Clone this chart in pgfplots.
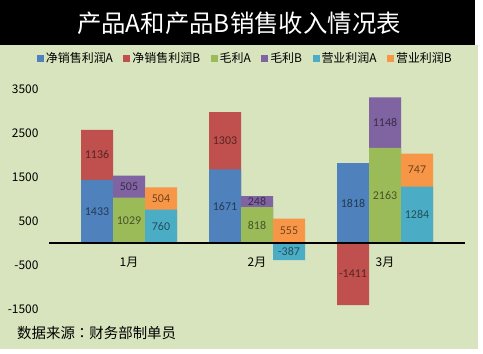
\documentclass[border=0pt]{standalone}
\usepackage{pgfplots}
\pgfplotsset{compat=1.18}
\usepackage{pgfplotstable}
\usepackage{fontspec}
\setmainfont{Carlito}
\newfontfamily\cjk{Noto Sans CJK SC}
\newfontfamily\cjktc{Noto Sans CJK TC}
\definecolor{cA}{HTML}{4F81BD}
\definecolor{cB}{HTML}{C0504D}
\definecolor{cC}{HTML}{9BBB59}
\definecolor{cD}{HTML}{8064A2}
\definecolor{cE}{HTML}{4BACC6}
\definecolor{cF}{HTML}{F79646}
\definecolor{bg}{HTML}{D7E4BD}

\pgfplotstableread{
x nA nB mA mB yA yB
0 1433 1136 1029 505 760 504
1 1671 1303 818 248 -387 555
2 1818 -1411 2163 1148 1284 747
}\data

\newcommand{\same}[2]{((\thisrow{#1}>0 && \thisrow{#2}>0) || (\thisrow{#1}<0 && \thisrow{#2}<0))}
\newcommand{\btop}[2]{ifthenelse(\same{#1}{#2}, \thisrow{#1}+\thisrow{#2}, \thisrow{#2})}
\newcommand{\bmid}[2]{ifthenelse(\same{#1}{#2}, \thisrow{#1}+\thisrow{#2}/2, \thisrow{#2}/2)}

\pgfplotsset{
  barsty/.style={ybar, bar width=32bp, bar shift=0pt, draw=none, fill=#1, forget plot},
  labsty/.style={forget plot, draw=none, mark=none, nodes near coords,
    point meta=explicit symbolic,
    every node near coord/.append style={anchor=center, font=\fontsize{12}{14}\selectfont, text=#1!45!black}},
}

\begin{document}
\begin{tikzpicture}
\fill[white] (0bp,0bp) rectangle (483bp,354bp);
\fill[bg] (0bp,5bp) rectangle (478bp,309bp);
\fill[black] (0bp,309bp) rectangle (475bp,354bp);
\node[text=white, font=\cjk\fontsize{24.5}{28}\selectfont] at (239bp,331bp) {产品A和产品B销售收入情况表};
\node[anchor=west, font=\cjk\fontsize{14.5}{17}\selectfont, inner sep=0pt] at (17bp,21bp) {数据来源{\cjktc ：}财务部制单员};
\begin{axis}[
  at={(49bp,45bp)}, anchor=south west, scale only axis,
  width=416bp, height=220bp,
  xmin=-0.625, xmax=2.625, ymin=-1500, ymax=3500,
  ytick={-1500,-500,...,3500},
  xtick={0,1,2}, xticklabels={1月,2月,3月},
  axis x line*=middle, axis y line*=left,
  y axis line style={draw=none},
  x axis line style={line width=1.5bp, black},
  major tick length=0pt, tick style={draw=none},
  axis on top,
  /pgf/number format/assume math mode=true,
  /pgf/number format/1000 sep={},
  yticklabel style={font=\cjk\fontsize{12}{14}\selectfont, anchor=east, xshift=-7bp},
  xticklabel style={font=\cjk\fontsize{12}{14}\selectfont, yshift=-11bp},
  legend style={at={(0.472,1.1386)}, anchor=center, draw=none, fill=none,
    legend columns=6, font=\cjk\fontsize{12}{14}\selectfont,
    /tikz/every even column/.append style={column sep=8.5bp}},
  legend image code/.code={\fill[#1] (0bp,-3.5bp) rectangle (7bp,3.5bp);},
]
% legend
\addlegendimage{fill=cA, draw=none}\addlegendentry{净销售利润A}
\addlegendimage{fill=cB, draw=none}\addlegendentry{净销售利润B}
\addlegendimage{fill=cC, draw=none}\addlegendentry{毛利A}
\addlegendimage{fill=cD, draw=none}\addlegendentry{毛利B}
\addlegendimage{fill=cE, draw=none}\addlegendentry{营业利润A}
\addlegendimage{fill=cF, draw=none}\addlegendentry{营业利润B}
% net sales profit
\addplot[barsty=cB] table[x expr=\thisrow{x}-0.25, y expr={\btop{nA}{nB}}] {\data};
\addplot[barsty=cA] table[x expr=\thisrow{x}-0.25, y=nA] {\data};
% gross profit
\addplot[barsty=cD] table[x expr=\thisrow{x}, y expr={\btop{mA}{mB}}] {\data};
\addplot[barsty=cC] table[x expr=\thisrow{x}, y=mA] {\data};
% operating profit
\addplot[barsty=cF] table[x expr=\thisrow{x}+0.25, y expr={\btop{yA}{yB}}] {\data};
\addplot[barsty=cE] table[x expr=\thisrow{x}+0.25, y=yA] {\data};
% labels
\addplot[labsty=cA] table[x expr=\thisrow{x}-0.25, y expr=\thisrow{nA}/2, meta=nA] {\data};
\addplot[labsty=cB] table[x expr=\thisrow{x}-0.25, y expr={\bmid{nA}{nB}}, meta=nB] {\data};
\addplot[labsty=cC] table[x expr=\thisrow{x}, y expr=\thisrow{mA}/2, meta=mA] {\data};
\addplot[labsty=cD] table[x expr=\thisrow{x}, y expr={\bmid{mA}{mB}}, meta=mB] {\data};
\addplot[labsty=cE] table[x expr=\thisrow{x}+0.25, y expr=\thisrow{yA}/2, meta=yA] {\data};
\addplot[labsty=cF] table[x expr=\thisrow{x}+0.25, y expr={\bmid{yA}{yB}}, meta=yB] {\data};
\end{axis}
\pgfresetboundingbox
\path[use as bounding box] (0bp,0bp) rectangle (483bp,354bp);
\end{tikzpicture}
\end{document}
